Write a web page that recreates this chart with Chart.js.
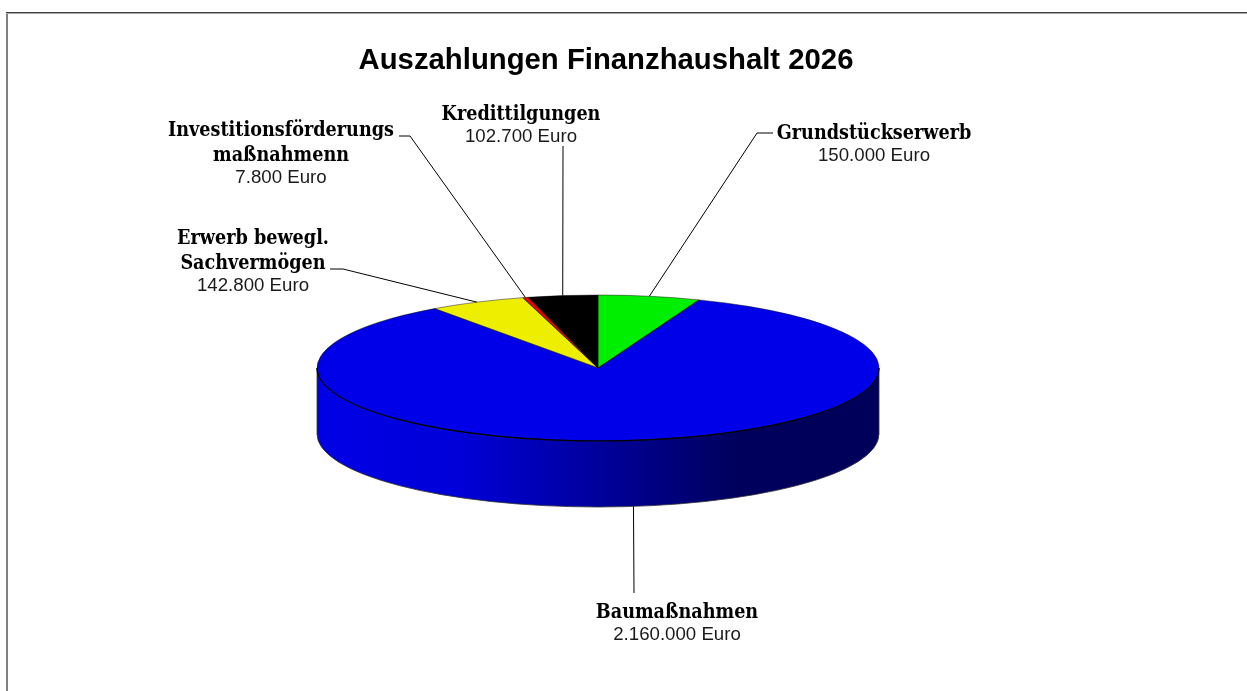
<!DOCTYPE html>
<html><head><meta charset="utf-8">
<style>html,body{margin:0;padding:0;background:#fff;overflow:hidden}#w{position:absolute;left:0;top:0;width:1247px;height:691px}</style>
<script src="https://cdn.jsdelivr.net/npm/chart.js@4"></script></head>
<body><div id="w"><canvas id="c" width="1247" height="691"></canvas></div>
<script>
const chartTitle = 'Auszahlungen Finanzhaushalt 2026';
const categories = [['Grundstückserwerb'],['Baumaßnahmen'],['Erwerb bewegl.','Sachvermögen'],['Investitionsförderungs','maßnahmenn'],['Kredittilgungen']];
const values = [150000,2160000,142800,7800,102700];
const valueLabels = ['150.000 Euro','2.160.000 Euro','142.800 Euro','7.800 Euro','102.700 Euro'];
const colors = ['#00ee00','#0000e8','#eeee00','#ee0000','#000000'];

const squash = 73/281, depth = 66;
const nameFont = 'bold 19.6px "DejaVu Serif Condensed"', valFont = '18.67px "Liberation Sans"';
const callouts = [
 {cx:874, y:139, line:[[773,133],[757,133]]},
 {cx:677, y:618, line:[[634,593]]},
 {cx:253, y:244, line:[[330,269],[343,269]]},
 {cx:281, y:136, line:[[399,136],[410,136]]},
 {cx:521, y:120, line:[[563,146]]}
];

const pie3d = {
 id:'pie3d',
 beforeDatasetsDraw(ch){
  const c=ch.ctx, a=ch.getDatasetMeta(0).data[0], x=a.x, y=a.y, r=a.outerRadius, ry=r*squash;
  c.save();
  const g=c.createLinearGradient(x-r,0,x+r,0);
  g.addColorStop(0,'#0000e6');g.addColorStop(.25,'#0000d8');g.addColorStop(.5,'#00009c');g.addColorStop(.75,'#00005c');g.addColorStop(1,'#00005a');
  c.beginPath();
  c.ellipse(x,y,r,ry,0,Math.PI,0,true);
  c.lineTo(x+r,y+depth);
  c.ellipse(x,y+depth,r,ry,0,0,Math.PI,false);
  c.closePath();
  c.fillStyle=g;c.fill();
  c.lineWidth=.8;c.strokeStyle='#333';c.stroke();
  c.restore();
  c.save();
  c.translate(0,y);c.scale(1,squash);c.translate(0,-y);
 },
 afterDatasetsDraw(ch){
  const c=ch.ctx; c.restore();
  const meta=ch.getDatasetMeta(0);
  const a0=meta.data[0], x=a0.x, y=a0.y, r=a0.outerRadius, ry=r*squash;
  c.save();
  meta.data.forEach(a=>{
    c.beginPath();c.moveTo(x,y);
    c.ellipse(x,y,r,ry,0,a.startAngle,a.endAngle);
    c.closePath();c.lineWidth=.6;c.strokeStyle='rgba(0,0,0,.75)';c.stroke();
  });
  c.beginPath();c.ellipse(x,y,r,ry,0,Math.PI,0,true);c.lineWidth=1.1;c.strokeStyle='#000';c.stroke();
  c.lineWidth=1;c.strokeStyle='#000';c.fillStyle='#000';c.textAlign='center';c.textBaseline='alphabetic';
  meta.data.forEach((a,i)=>{
    const m=(a.startAngle+a.endAngle)/2, co=callouts[i];
    const px=x+r*Math.cos(m); let py=y+ry*Math.sin(m);
    if(Math.sin(m)>0) py+=depth;
    c.beginPath();
    co.line.forEach((p,k)=>k?c.lineTo(p[0],p[1]):c.moveTo(p[0],p[1]));
    c.lineTo(px,py);c.stroke();
    let ly=co.y;
    c.font=nameFont;
    categories[i].forEach((t,k)=>{ if(k) ly+=25; c.fillText(t,co.cx,ly);});
    c.font=valFont;c.fillStyle='#1a1a1a';
    c.fillText(valueLabels[i],co.cx,ly+22);c.fillStyle='#000';
  });
  c.font='bold 29.3px "Liberation Sans"';c.fillStyle='#000';
  c.fillText(chartTitle,606,69);
  c.restore();
 }
};
const frame = {id:'frame',afterDraw(ch){const c=ch.ctx;c.save();
  c.fillStyle='#808080';c.fillRect(6,12,2,679);
  c.fillStyle='#a8a8a8';c.fillRect(6,13,1241,1);
  c.fillStyle='#404040';c.fillRect(6,12,1241,1);
  c.restore();}};

new Chart(document.getElementById('c'),{
 type:'pie',
 data:{labels:categories.map(l=>l.join(' ')),datasets:[{data:values,backgroundColor:colors,borderWidth:0,hoverOffset:0}]},
 plugins:[pie3d,frame],
 options:{responsive:false,animation:false,
  layout:{padding:{left:317,right:368,top:87,bottom:42}},
  plugins:{legend:{display:false},tooltip:{enabled:false},title:{display:false}}
 }
});
</script></body></html>
